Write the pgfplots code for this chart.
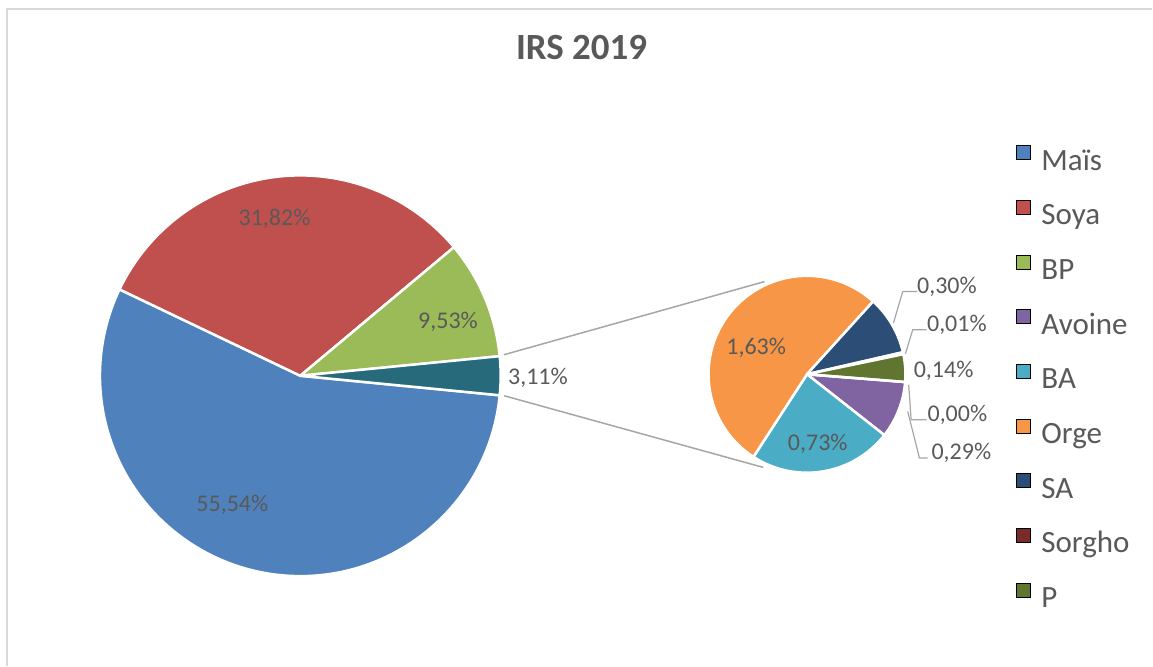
\documentclass[border=0pt]{standalone}
\usepackage{fontspec}
\setmainfont{Carlito}
\usepackage{pgfplots}
\usepackage{pgfplotstable}
\pgfplotsset{compat=1.18}
\usetikzlibrary{calc}

\definecolor{cMais}{HTML}{4F81BD}
\definecolor{cSoya}{HTML}{C0504D}
\definecolor{cBP}{HTML}{9BBB59}
\definecolor{cAutre}{HTML}{276A7B}
\definecolor{cAvoine}{HTML}{8064A2}
\definecolor{cBA}{HTML}{4BACC6}
\definecolor{cOrge}{HTML}{F79646}
\definecolor{cSA}{HTML}{2C4D75}
\definecolor{cSorgho}{HTML}{772C2A}
\definecolor{cP}{HTML}{5F7530}
\definecolor{txt}{HTML}{595959}
\definecolor{lead}{HTML}{A6A6A6}
\definecolor{frame}{HTML}{D9D9D9}

\newcommand\labelfont{\fontsize{24}{28}\selectfont}
\newcommand\legendfont{\fontsize{31}{37}\selectfont}
\newcommand\titlefont{\fontsize{37}{44}\selectfont\bfseries}

% main pie: value, colour, label position (px)
\pgfplotstableread{
value col lx ly
55.54 cMais 232.5 503.3
31.82 cSoya 274.7 217.0
9.53 cBP 448.3 320.8
3.11 cAutre 538.3 376.7
}\mainpie

% secondary pie (the 3,11 % split up)
\pgfplotstableread{
value col lx ly
0.29 cAvoine 962.0 452.0
0.73 cBA 818.3 442.5
1.63 cOrge 756.7 346.7
0.30 cSA 947.5 285.3
0.01 cSorgho 957.5 323.7
0.14 cP 944.2 370.0
0.00 cSorgho 958.0 413.3
}\subpie

\pgfkeys{/pgf/number format/.cd, fixed, fixed zerofill, precision=2, use comma, assume math mode=true}

\newcommand\piefills{}
\newcommand\pielabels{}
% #1 table, #2 cx, #3 cy, #4 radius, #5 start angle (clockwise)
\newcommand\buildpie[5]{%
  \pgfplotstablegetrowsof{#1}%
  \pgfmathtruncatemacro\lastrow{\pgfplotsretval-1}%
  \gdef\pietotal{0}%
  \foreach \i in {0,...,\lastrow}{%
    \pgfplotstablegetelem{\i}{value}\of{#1}%
    \pgfmathsetmacro\tmp{\pietotal+\pgfplotsretval}%
    \xdef\pietotal{\tmp}}%
  \gdef\pieangle{#5}%
  \foreach \i in {0,...,\lastrow}{%
    \pgfplotstablegetelem{\i}{value}\of{#1}\let\pv\pgfplotsretval
    \pgfplotstablegetelem{\i}{col}\of{#1}\let\pc\pgfplotsretval
    \pgfplotstablegetelem{\i}{lx}\of{#1}\let\plx\pgfplotsretval
    \pgfplotstablegetelem{\i}{ly}\of{#1}\let\ply\pgfplotsretval
    \pgfmathsetmacro\pfrac{\pv/\pietotal}%
    \pgfmathsetmacro\aend{\pieangle-\pfrac*360}%
    \xdef\piefills{\unexpanded\expandafter{\piefills}%
      \noexpand\fill[\pc, draw=white, line width=2.5pt, line join=round]
        (axis cs:#2,#3) -- ++(\pieangle:#4pt)
        arc[start angle=\pieangle, end angle=\aend, radius=#4pt] -- cycle;}%
    \xdef\pielabels{\unexpanded\expandafter{\pielabels}%
      \noexpand\node[txt, font=\noexpand\labelfont, text depth=0pt] at (axis cs:\plx,\ply)
        {\noexpand\pgfmathprintnumber{\pv}\noexpand\%};}%
    \xdef\pieangle{\aend}}%
}
\buildpie{\mainpie}{300.5}{376}{200.5}{-5.598}
\buildpie{\subpie}{807.5}{374.5}{98.5}{-4.5}

\begin{document}
\begin{tikzpicture}
\begin{axis}[
    x=1pt, y=1pt,
    xmin=0, xmax=1153, ymin=0, ymax=666,
    y dir=reverse,
    hide axis, clip=false,
    title={IRS 2019},
    title style={at={(axis cs:582,53.3)}, anchor=center, font=\titlefont, text=txt},
    legend image code/.code={\fill[#1] (0pt,3pt) rectangle (14pt,17pt); \path (25pt,10pt);},
    legend cell align=left,
    legend style={draw=none, fill=none, at={(axis cs:1016.7,145.5)}, anchor=north west,
        inner sep=0pt, outer sep=0pt, row sep=23pt, column sep=0pt,
        font=\legendfont, text=txt,
        nodes={inner sep=0pt, text height=22pt, text depth=7pt}},
]
\path (axis cs:0,0) rectangle (axis cs:1153,666);
\draw[frame, line width=1.5pt] (axis cs:7,666) -- (axis cs:7,9) -- (axis cs:1153,9);

\piefills

% lines joining the 3,11 % slice to the second pie
\draw[lead, line width=1.5pt] ($(axis cs:300.5,376)+(5.9:205pt)$) -- ($(axis cs:807.5,374.5)+(114.6:102pt)$);
\draw[lead, line width=1.5pt] ($(axis cs:300.5,376)+(-5.6:205pt)$) -- ($(axis cs:807.5,374.5)+(-115.2:103pt)$);

% leader lines of the small labels
\draw[lead, line width=1.2pt] (axis cs:918,291.7) -- (axis cs:903.3,291.7) -- (axis cs:894,323.3);
\draw[lead, line width=1.2pt] (axis cs:927.3,330) -- (axis cs:913.3,330) -- (axis cs:906,354);
\draw[lead, line width=1.2pt] (axis cs:927.3,420) -- (axis cs:911.7,420) -- (axis cs:909.3,385);
\draw[lead, line width=1.2pt] (axis cs:928.3,458.3) -- (axis cs:920,458.3) -- (axis cs:908.3,411.7);

\pielabels

\addlegendimage{fill=cMais}\addlegendentry{Maïs}
\addlegendimage{fill=cSoya}\addlegendentry{Soya}
\addlegendimage{fill=cBP}\addlegendentry{BP}
\addlegendimage{fill=cAvoine}\addlegendentry{Avoine}
\addlegendimage{fill=cBA}\addlegendentry{BA}
\addlegendimage{fill=cOrge}\addlegendentry{Orge}
\addlegendimage{fill=cSA}\addlegendentry{SA}
\addlegendimage{fill=cSorgho}\addlegendentry{Sorgho}
\addlegendimage{fill=cP}\addlegendentry{P}
\end{axis}
\end{tikzpicture}
\end{document}
